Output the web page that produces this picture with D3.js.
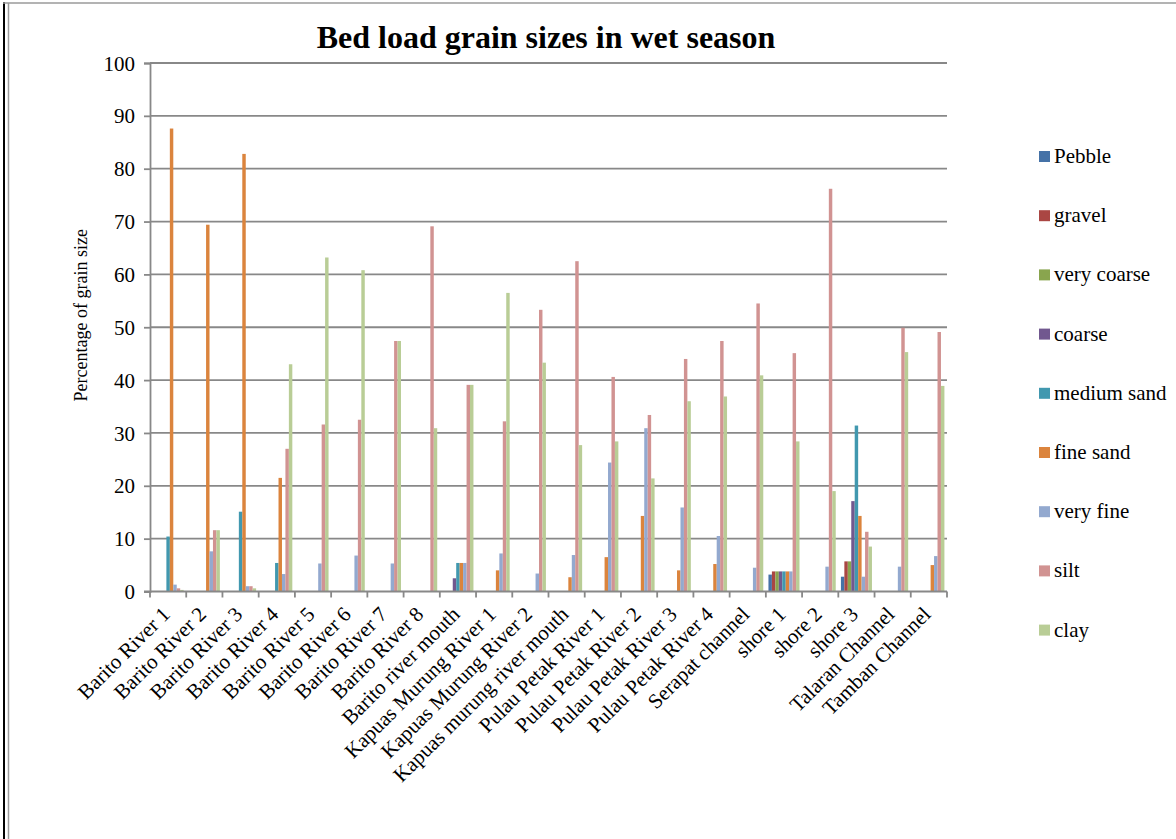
<!DOCTYPE html>
<html>
<head>
<meta charset="utf-8">
<script src="https://cdn.jsdelivr.net/npm/d3@7"></script>
<style>
  html, body { margin: 0; padding: 0; background: #fff; }
  svg { display: block; }
  svg text { font-family: "Liberation Serif", "Times New Roman", serif !important; fill: #000; }
</style>
</head>
<body>
<svg id="chart" width="1176" height="839"></svg>
<script>
// Sampling stations (x-axis categories)
const categories = [
  "Barito River 1", "Barito River 2", "Barito River 3", "Barito River 4",
  "Barito River 5", "Barito River 6", "Barito River 7", "Barito River 8",
  "Barito river mouth", "Kapuas Murung River 1", "Kapuas Murung River 2",
  "Kapuas murung river mouth", "Pulau Petak River 1", "Pulau Petak River 2",
  "Pulau Petak River 3", "Pulau Petak River 4", "Serapat channel",
  "shore 1", "shore 2", "shore 3", "Talaran Channel", "Tamban Channel"
];

// Grain size classes, in legend order
const seriesNames = ["Pebble", "gravel", "very coarse", "coarse", "medium sand",
                     "fine sand", "very fine", "silt", "clay"];
const seriesColors = ["#4572A7", "#AA4643", "#89A54E", "#71588F", "#4198AF",
                      "#DB843D", "#93A9CF", "#D19392", "#B9CD96"];

// Percentage of each grain size per station
const pebble     = [0, 0, 0, 0, 0, 0, 0, 0, 0, 0, 0, 0, 0, 0, 0, 0, 0, 3.2, 0, 2.8, 0, 0];
const gravel     = [0, 0, 0, 0, 0, 0, 0, 0, 0, 0, 0, 0, 0, 0, 0, 0, 0, 3.8, 0, 5.7, 0, 0];
const veryCoarse = [0, 0, 0, 0, 0, 0, 0, 0, 0, 0, 0, 0, 0, 0, 0, 0, 0, 3.8, 0, 5.7, 0, 0];
const coarse     = [0, 0, 0, 0, 0, 0, 0, 0, 2.5, 0, 0, 0, 0, 0, 0, 0, 0, 3.8, 0, 17.1, 0, 0];
const mediumSand = [10.4, 0, 15.1, 5.4, 0, 0, 0, 0, 5.4, 0, 0, 0, 0, 0, 0, 0, 0, 3.8, 0, 31.4, 0, 0];
const fineSand   = [87.6, 69.4, 82.8, 21.5, 0, 0, 0, 0, 5.4, 4.0, 0, 2.7, 6.5, 14.3, 4.0, 5.2, 0, 3.8, 0, 14.3, 0, 5.0];
const veryFine   = [1.3, 7.6, 1.0, 3.3, 5.3, 6.8, 5.3, 0, 5.4, 7.2, 3.4, 6.9, 24.4, 30.9, 15.9, 10.5, 4.5, 3.8, 4.7, 2.8, 4.7, 6.7];
const silt       = [0.6, 11.6, 1.0, 27.0, 31.6, 32.5, 47.4, 69.1, 39.1, 32.2, 53.3, 62.5, 40.6, 33.4, 44.0, 47.4, 54.5, 45.1, 76.2, 11.3, 49.9, 49.1];
const clay       = [0.3, 11.6, 0.6, 43.0, 63.2, 60.8, 47.4, 30.9, 39.1, 56.5, 43.3, 27.7, 28.4, 21.4, 36.0, 36.9, 40.9, 28.4, 19.0, 8.5, 45.3, 38.9];

const seriesValues = [pebble, gravel, veryCoarse, coarse, mediumSand, fineSand, veryFine, silt, clay];
const yTicks = [0, 10, 20, 30, 40, 50, 60, 70, 80, 90, 100];

const FONT = "'Liberation Serif', 'Times New Roman', serif";
const svg = d3.select("#chart");
const W = 1176, H = 839;
const plot = { left: 150, right: 947, top: 63, bottom: 591.5 };

svg.append("rect").attr("width", W).attr("height", H).attr("fill", "#fff");

// Outer frame
svg.append("line").attr("x1", 4).attr("x2", 4).attr("y1", 2).attr("y2", H)
  .attr("stroke", "#000").attr("stroke-width", 2);
svg.append("line").attr("x1", 8.5).attr("x2", 8.5).attr("y1", 3).attr("y2", H)
  .attr("stroke", "#9a9a9a").attr("stroke-width", 1.5);
svg.append("line").attr("x1", 3).attr("x2", W).attr("y1", 3).attr("y2", 3)
  .attr("stroke", "#9a9a9a").attr("stroke-width", 1.5);

// Scales
const x0 = d3.scaleBand().domain(categories).range([plot.left, plot.right]).padding(0);
const bw = x0.bandwidth();
const gap = bw * 1.5 / 10.5;          // 150% gap width between clusters
const x1 = d3.scaleBand().domain(d3.range(seriesNames.length))
  .range([gap / 2, bw - gap / 2]).padding(0);
const y = d3.scaleLinear().domain([0, 100]).range([plot.bottom, plot.top]);

// Horizontal gridlines
svg.append("g").selectAll("line").data(yTicks.filter(d => d > 0)).join("line")
  .attr("x1", plot.left).attr("x2", plot.right)
  .attr("y1", d => y(d)).attr("y2", d => y(d))
  .attr("stroke", "#888").attr("stroke-width", 1.8);

// Bars
const groups = svg.append("g").selectAll("g").data(seriesValues).join("g")
  .attr("fill", (d, i) => seriesColors[i]);
groups.each(function (vals, si) {
  d3.select(this).selectAll("rect").data(vals).join("rect")
    .attr("x", (v, ci) => x0(categories[ci]) + x1(si))
    .attr("width", x1.bandwidth())
    .attr("y", v => y(v))
    .attr("height", v => y(0) - y(v));
});

// Y axis
const yAxis = d3.axisLeft(y).tickValues(yTicks).tickSize(6).tickPadding(9);
const gy = svg.append("g").attr("transform", `translate(${plot.left},0)`).call(yAxis)
  .attr("font-family", FONT).attr("font-size", 21);
gy.select(".domain").attr("stroke", "#888").attr("stroke-width", 1.8);
gy.selectAll(".tick line").attr("stroke", "#888").attr("stroke-width", 1.8);
gy.selectAll(".tick text").attr("font-family", FONT).attr("font-size", 21)
  .attr("fill", "#000").attr("dy", "0.34em");

// X axis line and boundary ticks
svg.append("line").attr("x1", plot.left - 6).attr("x2", plot.right)
  .attr("y1", y(0)).attr("y2", y(0)).attr("stroke", "#888").attr("stroke-width", 1.8);
const boundaries = categories.map(c => x0(c) + bw).concat([plot.left]);
svg.append("g").selectAll("line").data(boundaries).join("line")
  .attr("x1", d => d).attr("x2", d => d)
  .attr("y1", y(0)).attr("y2", y(0) + 6)
  .attr("stroke", "#888").attr("stroke-width", 1.8);

// Rotated category labels
svg.append("g").selectAll("text").data(categories).join("text")
  .attr("transform", c => `translate(${x0(c) + bw / 2 + 3},${y(0) + 24}) rotate(-45)`)
  .attr("text-anchor", "end")
  .attr("font-family", FONT).attr("font-size", 21)
  .text(c => c);

// Y axis title
svg.append("text")
  .attr("transform", `translate(87,${(plot.top + plot.bottom) / 2 - 12}) rotate(-90)`)
  .attr("text-anchor", "middle")
  .attr("font-family", FONT).attr("font-size", 18)
  .text("Percentage of grain size");

// Chart title
svg.append("text")
  .attr("x", 546).attr("y", 48)
  .attr("text-anchor", "middle")
  .attr("font-family", FONT).attr("font-size", 32).attr("font-weight", "bold")
  .text("Bed load grain sizes in wet season");

// Legend
const legend = svg.append("g").selectAll("g").data(seriesNames).join("g")
  .attr("transform", (d, i) => `translate(1039,${151 + i * 59.2})`);
legend.append("rect").attr("width", 11).attr("height", 11)
  .attr("fill", (d, i) => seriesColors[i]);
legend.append("text").attr("x", 15).attr("y", 12)
  .attr("font-family", FONT).attr("font-size", 21)
  .text(d => d);
</script>
</body>
</html>
